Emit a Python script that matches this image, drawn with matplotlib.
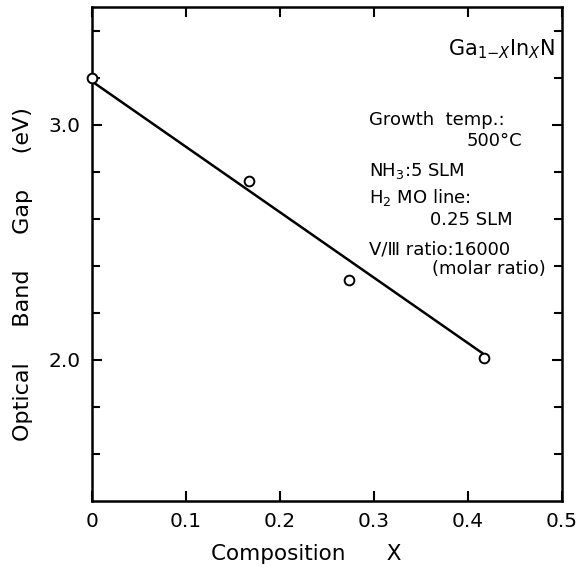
import matplotlib
matplotlib.use("Agg")
import matplotlib.pyplot as plt

# Data
comp_x = [0.0, 0.167, 0.273, 0.417]
band_gap = [3.20, 2.76, 2.34, 2.01]
fit_x = [0.0, 0.415]
fit_y = [3.186, 2.03]

x_ticks = [0.0, 0.1, 0.2, 0.3, 0.4, 0.5]
x_tick_labels = ["0", "0.1", "0.2", "0.3", "0.4", "0.5"]
y_major = [2.0, 3.0]
y_major_labels = ["2.0", "3.0"]
y_minor = [1.6, 1.8, 2.2, 2.4, 2.6, 2.8, 3.2, 3.4]

plt.rcParams['font.family'] = ['DejaVu Sans']

fig = plt.figure(figsize=(5.77, 5.71), dpi=100)
ax = fig.add_axes([0.159, 0.1226, 0.815, 0.8644])

ax.plot(fit_x, fit_y, color='black', lw=1.8, zorder=2)
ax.plot(comp_x, band_gap, linestyle='none', marker='o', markersize=7,
        markerfacecolor='white', markeredgecolor='black', markeredgewidth=1.4, zorder=3,
        clip_on=False)

ax.set_xlim(0, 0.5)
ax.set_ylim(1.4, 3.5)
ax.set_xticks(x_ticks)
ax.set_xticklabels(x_tick_labels)
ax.set_yticks(y_major)
ax.set_yticklabels(y_major_labels)
ax.set_yticks(y_minor, minor=True)

ax.tick_params(axis='both', which='both', direction='in', top=True, right=True,
               width=1.5, labelsize=14.5)
ax.tick_params(axis='both', which='major', length=7, pad=8)
ax.tick_params(axis='both', which='minor', length=6)
for s in ax.spines.values():
    s.set_linewidth(1.8)

ax.set_xlabel("Composition      X", fontsize=15.5)
ax.xaxis.set_label_coords(0.457, -0.088)
ax.set_ylabel("Optical     Band     Gap     (eV)", fontsize=16)
ax.yaxis.set_label_coords(-0.125, 0.46)

ax.text(0.985, 0.915, r"Ga$_{1\mathregular{-}X}$In$_X$N", transform=ax.transAxes,
        ha='right', va='center', fontsize=15)

fs = 13
tx = 0.59
ax.text(tx, 0.772, "Growth  temp.:", transform=ax.transAxes, ha='left', va='center', fontsize=fs)
ax.text(0.915, 0.73, "500°C", transform=ax.transAxes, ha='right', va='center', fontsize=fs)
ax.text(tx, 0.668, r"NH$_3$:5 SLM", transform=ax.transAxes, ha='left', va='center', fontsize=fs)
ax.text(tx, 0.614, r"H$_2$ MO line:", transform=ax.transAxes, ha='left', va='center', fontsize=fs)
ax.text(0.895, 0.569, "0.25 SLM", transform=ax.transAxes, ha='right', va='center', fontsize=fs)
ax.text(tx, 0.510, "V/Ⅲ ratio:16000", transform=ax.transAxes, ha='left', va='center', fontsize=fs)
ax.text(0.966, 0.470, "(molar ratio)", transform=ax.transAxes, ha='right', va='center', fontsize=fs)

fig.savefig("out.png", dpi=100, facecolor='white')
